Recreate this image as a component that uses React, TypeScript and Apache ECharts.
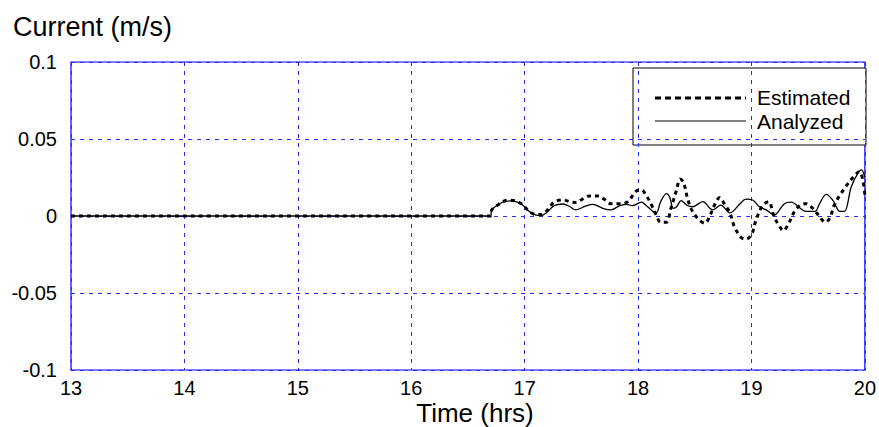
import React, { useEffect, useRef } from "react";
import * as echarts from "echarts";

const estimatedT = [13, 16.7, 16.71, 16.76, 16.81, 16.88, 16.97, 17.04, 17.1, 17.14, 17.19, 17.26, 17.34, 17.41, 17.45, 17.51, 17.57, 17.65, 17.7, 17.76, 17.84, 17.91, 17.98, 18.03, 18.07, 18.12, 18.16, 18.2, 18.25, 18.29, 18.34, 18.37, 18.4, 18.44, 18.48, 18.54, 18.59, 18.63, 18.68, 18.72, 18.76, 18.81, 18.85, 18.91, 18.95, 19.0, 19.04, 19.1, 19.15, 19.2, 19.25, 19.28, 19.32, 19.38, 19.43, 19.48, 19.54, 19.59, 19.65, 19.69, 19.73, 19.79, 19.84, 19.9, 19.95, 19.98, 20.0];
const estimatedV = [0, 0, 0.004, 0.007, 0.0095, 0.0102, 0.008, 0.003, 0.001, 0.001, 0.003, 0.009, 0.0104, 0.009, 0.0088, 0.011, 0.013, 0.013, 0.011, 0.008, 0.008, 0.0093, 0.016, 0.017, 0.0136, 0.007, 0.0006, -0.004, -0.004, 0.005, 0.017, 0.024, 0.022, 0.0104, 0.003, -0.0026, -0.0047, -0.0004, 0.008, 0.012, 0.008, 0.002, -0.007, -0.014, -0.015, -0.0123, -0.0026, 0.007, 0.0093, -0.0004, -0.007, -0.0095, -0.006, 0.003, 0.007, 0.008, 0.005, 0.0006, -0.004, -0.0015, 0.007, 0.0147, 0.02, 0.0255, 0.0288, 0.024, 0.0136];

const analyzedT = [13, 16.7, 16.71, 16.76, 16.81, 16.88, 16.97, 17.04, 17.1, 17.14, 17.19, 17.26, 17.34, 17.4, 17.45, 17.54, 17.6, 17.69, 17.76, 17.84, 17.9, 17.95, 18.03, 18.07, 18.13, 18.16, 18.2, 18.25, 18.28, 18.31, 18.34, 18.38, 18.43, 18.48, 18.57, 18.66, 18.73, 18.81, 18.9, 18.95, 19.01, 19.07, 19.13, 19.2, 19.29, 19.35, 19.43, 19.48, 19.56, 19.6, 19.66, 19.72, 19.78, 19.82, 19.88, 19.94, 19.97, 20.0];
const analyzedV = [0, 0, 0.004, 0.007, 0.009, 0.0098, 0.0078, 0.003, 0.0005, 0.0002, 0.002, 0.0067, 0.0078, 0.006, 0.004, 0.0065, 0.0076, 0.005, 0.004, 0.0067, 0.0076, 0.0067, 0.009, 0.007, 0.003, 0.002, 0.0093, 0.0145, 0.012, 0.005, 0.006, 0.01, 0.007, 0.006, 0.0093, 0.004, 0.007, 0.002, 0.008, 0.011, 0.0104, 0.006, 0.004, 0.0006, 0.008, 0.009, 0.005, 0.003, 0.003, 0.008, 0.014, 0.01, 0.003, 0.003, 0.019, 0.028, 0.03, 0.025];

const xTicks = [13, 14, 15, 16, 17, 18, 19, 20];
const yTickLabels = ["-0.1", "-0.05", "0", "0.05", "0.1"];
const seriesNames = ["Estimated", "Analyzed"];
const yLabel = "Current (m/s)";
const xLabel = "Time (hrs)";

const FONT = "'Liberation Sans', Arial, Helvetica, sans-serif";
const BLUE = "#0000ff";

export default function App() {
  const ref = useRef<HTMLDivElement>(null);
  useEffect(() => {
    if (!ref.current) return;
    const chart = echarts.init(ref.current, null, { renderer: "svg" });
    const gridLine = { show: true, lineStyle: { color: "#2a2aff", type: [4, 5], width: 1 } };
    chart.setOption({
      animation: false,
      backgroundColor: "#ffffff",
      textStyle: { fontFamily: FONT },
      grid: { left: 71, right: 14, top: 62, bottom: 57, show: true, borderColor: BLUE, borderWidth: 1.2, backgroundColor: "transparent" },
      xAxis: {
        type: "value",
        min: xTicks[0],
        max: xTicks[xTicks.length - 1],
        interval: 1,
        axisLine: { show: false },
        axisTick: { show: false },
        splitLine: gridLine,
        axisLabel: { color: "#000", fontSize: 20, margin: 8, fontFamily: FONT },
      },
      yAxis: {
        type: "value",
        min: -0.1,
        max: 0.1,
        interval: 0.05,
        axisLine: { show: false },
        axisTick: { show: false },
        splitLine: gridLine,
        axisLabel: {
          color: "#000",
          fontSize: 20,
          margin: 14,
          fontFamily: FONT,
          formatter: (v: number) => yTickLabels[Math.round((v + 0.1) / 0.05)] ?? String(v),
        },
      },
      series: [
        {
          name: seriesNames[1],
          type: "line",
          data: analyzedT.map((t, i) => [t, analyzedV[i]]),
          showSymbol: false,
          smooth: 0.35,
          lineStyle: { color: "#000", width: 1.3 },
          z: 3,
        },
        {
          name: seriesNames[0],
          type: "line",
          data: estimatedT.map((t, i) => [t, estimatedV[i]]),
          showSymbol: false,
          smooth: 0.35,
          lineStyle: { color: "#000", width: 3, type: [4, 4] },
          z: 4,
        },
      ],
      graphic: [
        { type: "text", x: 13, y: 27, style: { text: yLabel, font: `27px ${FONT}`, fill: "#000", textVerticalAlign: "middle" } },
        { type: "text", x: 475, y: 413, style: { text: xLabel, font: `26px ${FONT}`, fill: "#000", textAlign: "center", textVerticalAlign: "middle" } },
        {
          type: "group",
          x: 633,
          y: 68,
          children: [
            { type: "rect", shape: { x: 0, y: 0, width: 233, height: 77 }, style: { fill: "#fff", stroke: "#000", lineWidth: 1 } },
            { type: "line", shape: { x1: 22, y1: 30, x2: 113, y2: 30 }, style: { stroke: "#000", lineWidth: 3, lineDash: [6, 4] } },
            { type: "line", shape: { x1: 22, y1: 53, x2: 113, y2: 53 }, style: { stroke: "#000", lineWidth: 1 } },
            { type: "text", x: 124, y: 29, style: { text: seriesNames[0], font: `21px ${FONT}`, fill: "#000", textVerticalAlign: "middle" } },
            { type: "text", x: 124, y: 53, style: { text: seriesNames[1], font: `21px ${FONT}`, fill: "#000", textVerticalAlign: "middle" } },
          ],
        },
      ],
    });
    return () => chart.dispose();
  }, []);
  return <div ref={ref} style={{ width: 879, height: 427, position: "absolute", left: 0, top: 0 }} />;
}
